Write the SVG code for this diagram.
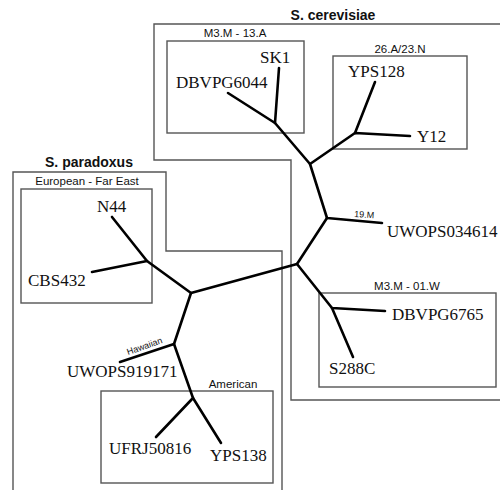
<svg xmlns="http://www.w3.org/2000/svg" width="500" height="490" viewBox="0 0 500 490">
<style>
.box{fill:none;stroke:#555;stroke-width:1.4}
.br{fill:none;stroke:#000;stroke-width:2.6;stroke-linecap:round;stroke-linejoin:round}
.leaf{font-family:"Liberation Serif",serif;font-size:17px;fill:#111}
.grp{font-family:"Liberation Sans",sans-serif;font-size:11.5px;fill:#111}
.sp{font-family:"Liberation Sans",sans-serif;font-size:14px;font-weight:bold;fill:#111}
.sm{font-family:"Liberation Sans",sans-serif;font-size:9px;fill:#111}
</style>
<rect width="500" height="490" fill="#fff"/>
<g id="cerevisiae">
<polygon class="box" points="154,24 502,24 502,400 291,400 291,160 154,160"/>
<text class="sp" x="333" y="20" text-anchor="middle">S. cerevisiae</text>
</g>
<g id="paradoxus">
<polygon class="box" points="13,172 166,172 166,251 282,251 282,495 13,495"/>
<text class="sp" x="89" y="167" text-anchor="middle">S. paradoxus</text>
</g>
<g id="grp-m3m13a">
<rect class="box" x="167" y="41" width="137" height="92"/>
<text class="grp" x="235" y="37" text-anchor="middle">M3.M - 13.A</text>
</g>
<g id="grp-26a23n">
<rect class="box" x="333" y="56" width="134" height="93"/>
<text class="grp" x="400" y="53" text-anchor="middle">26.A/23.N</text>
</g>
<g id="grp-m3m01w">
<rect class="box" x="319" y="293" width="177" height="94"/>
<text class="grp" x="407" y="290" text-anchor="middle">M3.M - 01.W</text>
</g>
<g id="grp-european">
<rect class="box" x="21" y="189" width="131" height="114"/>
<text class="grp" x="87" y="185" text-anchor="middle">European - Far East</text>
</g>
<g id="grp-american">
<rect class="box" x="101" y="391" width="172" height="92"/>
<text class="grp" x="233" y="388" text-anchor="middle">American</text>
</g>
<g id="connectors">
<polyline class="br" points="279,68 275,123 228,93"/>
<polyline class="br" points="275,123 310,164 355,133 410,136"/>
<line class="br" x1="355" y1="133" x2="375" y2="82"/>
<polyline class="br" points="310,164 327,218 382,223"/>
<polyline class="br" points="327,218 297,264 332,308 385,311"/>
<line class="br" x1="332" y1="308" x2="353" y2="357"/>
<polyline class="br" points="297,264 191,293 147,261 112,217"/>
<line class="br" x1="147" y1="261" x2="92" y2="272"/>
<polyline class="br" points="191,293 174,344 120,362"/>
<polyline class="br" points="174,344 193,398 156,437"/>
<line class="br" x1="193" y1="398" x2="221" y2="443"/>
</g>
<g id="branch-labels">
<text class="sm" x="354" y="217" transform="rotate(4 354 217)">19.M</text>
<text class="sm" x="128" y="355" transform="rotate(-19 128 355)">Hawaiian</text>
</g>
<g id="leaf-SK1"><text class="leaf" x="260" y="63">SK1</text></g>
<g id="leaf-DBVPG6044"><text class="leaf" x="176" y="88">DBVPG6044</text></g>
<g id="leaf-YPS128"><text class="leaf" x="348" y="77">YPS128</text></g>
<g id="leaf-Y12"><text class="leaf" x="417" y="142">Y12</text></g>
<g id="leaf-UWOPS034614"><text class="leaf" x="387" y="237">UWOPS034614</text></g>
<g id="leaf-DBVPG6765"><text class="leaf" x="392" y="320">DBVPG6765</text></g>
<g id="leaf-S288C"><text class="leaf" x="329" y="374">S288C</text></g>
<g id="leaf-N44"><text class="leaf" x="97" y="212">N44</text></g>
<g id="leaf-CBS432"><text class="leaf" x="28" y="286">CBS432</text></g>
<g id="leaf-UWOPS919171"><text class="leaf" x="67" y="377">UWOPS919171</text></g>
<g id="leaf-UFRJ50816"><text class="leaf" x="109" y="454">UFRJ50816</text></g>
<g id="leaf-YPS138"><text class="leaf" x="210" y="461">YPS138</text></g>
</svg>
